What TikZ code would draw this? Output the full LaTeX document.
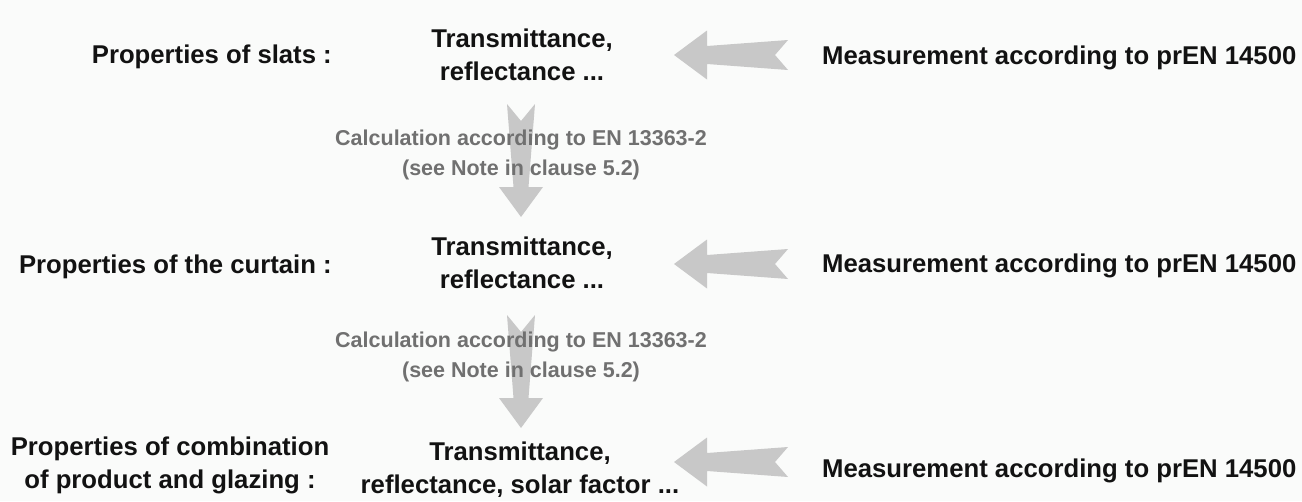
\documentclass[tikz,border=0pt]{standalone}
\usepackage{fontspec}
\setmainfont{Liberation Sans}
\definecolor{arrowgray}{RGB}{200,200,200}
\definecolor{calcgray}{RGB}{112,112,112}
\definecolor{bggray}{RGB}{250,251,250}
\definecolor{textblack}{RGB}{18,18,18}
\begin{document}
\begin{tikzpicture}[x=1pt,y=-1pt,
  lbl/.style={font=\fontsize{25.7}{33}\selectfont\bfseries, text=textblack, inner sep=0pt, align=center},
  calcnote/.style={font=\fontsize{21.5}{30}\selectfont\bfseries, text=calcgray, inner sep=0pt, align=center},
  blockarrow/.style={fill=arrowgray, draw=none},
  leftarrow/.pic={\path[blockarrow] (0,0) -- (33,-24.5) -- (33,-9) -- (114,-15) -- (101,0) -- (114,15) -- (33,9) -- (33,24.5) -- cycle;},
  downarrow/.pic={\path[blockarrow] (0,0) -- (-22,-30) -- (-7.5,-30) -- (-14,-113) -- (0,-96) -- (14,-113) -- (7.5,-30) -- (22,-30) -- cycle;}
]
\fill[bggray] (0,0) rectangle (1302,501);
\useasboundingbox (0,0) rectangle (1302,501);

% arrow tips
\coordinate (la1) at (674,55);
\coordinate (la2) at (674,264);
\coordinate (la3) at (674,462);
\coordinate (da1) at (521,217);
\coordinate (da2) at (521,428);

\pic at (la1) {leftarrow};
\pic at (la2) {leftarrow};
\pic at (la3) {leftarrow};
\pic at (da1) {downarrow};
\pic at (da2) {downarrow};

% left labels
\node[lbl, anchor=base east] (p1) at (332,63) {Properties of slats :};
\node[lbl, anchor=base east] (p2) at (332,273) {Properties of the curtain :};
\node[lbl] (p3) at (170,465) {Properties of combination\\of product and glazing :};

% middle labels
\node[lbl] (t1) at (522,55) {Transmittance,\\reflectance ...};
\node[lbl] (t2) at (522,263) {Transmittance,\\reflectance ...};
\node[lbl] (t3) at (520,470) {Transmittance,\\reflectance, solar factor ...};

% right labels
\node[lbl, anchor=base west] (m1) at (822,64) {Measurement according to prEN 14500};
\node[lbl, anchor=base west] (m2) at (822,272) {Measurement according to prEN 14500};
\node[lbl, anchor=base west] (m3) at (822,477) {Measurement according to prEN 14500};

% calculation notes
\node[calcnote] (c1) at (521,155) {Calculation according to EN 13363-2\\(see Note in clause 5.2)};
\node[calcnote] (c2) at (521,357) {Calculation according to EN 13363-2\\(see Note in clause 5.2)};
\end{tikzpicture}
\end{document}
